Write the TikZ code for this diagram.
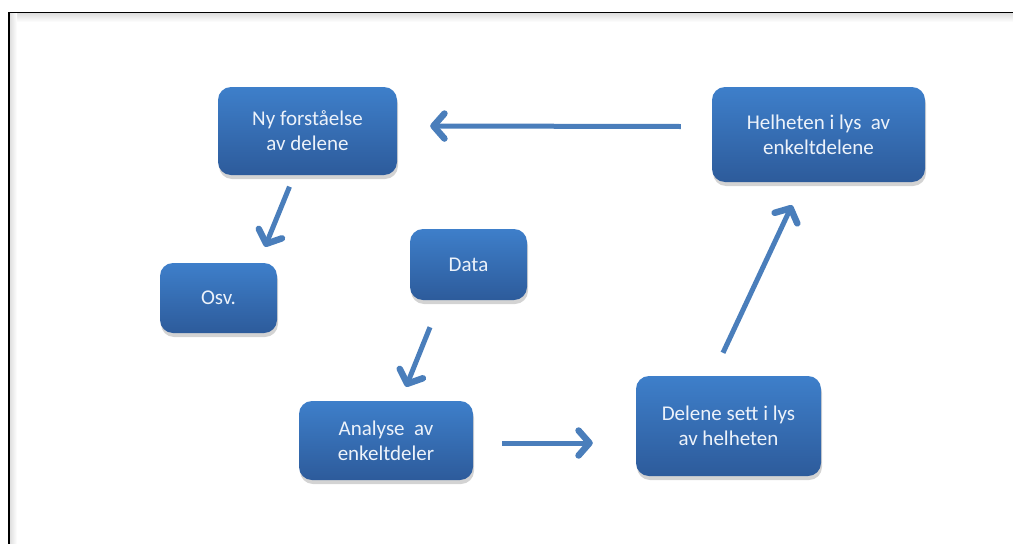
\documentclass[tikz,border=0pt]{standalone}
\usepackage{fontspec}
\setmainfont{Carlito}
\usetikzlibrary{arrows.meta,shadows}

\definecolor{boxtop}{RGB}{62,127,202}
\definecolor{boxbot}{RGB}{45,91,155}
\definecolor{arrowblue}{RGB}{74,126,187}
\definecolor{boxtext}{RGB}{236,242,250}

\tikzset{
    stagebox/.style={rectangle, rounded corners=13pt, draw=none,
        top color=boxtop, bottom color=boxbot, text=boxtext,
        align=center, inner sep=2pt,
        font=\fontsize{21}{25}\selectfont,
        drop shadow={shadow xshift=1pt,shadow yshift=-4pt,opacity=0.35}},
    flow/.style={draw=arrowblue, line width=5pt,
        -{Straight Barb[length=11pt,width=25pt,line width=6.5pt,round]}}
}

\begin{document}
\begin{tikzpicture}[x=1pt,y=-1pt]
        \useasboundingbox (0,0) rectangle (1013,544);
        % frame
        \shade[top color=black!13, bottom color=white] (9.5,13.3) rectangle (1013,22);
        \shade[left color=black!13, right color=white] (9.5,13.3) rectangle (17,544);
        \draw[line width=1.5pt] (9,544) -- (9,12.5) -- (1013,12.5);

        % boxes
        \node[stagebox, minimum width=179pt, minimum height=88pt] (ny) at (307.5,131) {Ny forståelse\\av delene};
        \node[stagebox, minimum width=213pt, minimum height=95pt] (helheten) at (818.5,134.5) {Helheten i lys\ \ av\\enkeltdelene};
        \node[stagebox, minimum width=117pt, minimum height=70pt] (osv) at (218.5,298) {Osv.};
        \node[stagebox, minimum width=117pt, minimum height=71pt] (data) at (468.5,264.5) {Data};
        \node[stagebox, minimum width=174pt, minimum height=79pt] (analyse) at (386,440.5) {Analyse\ \ av\\enkeltdeler};
        \node[stagebox, minimum width=185pt, minimum height=100pt] (delene) at (728.5,426) {Delene sett i lys\\av helheten};

        % arrows
        \draw[flow] ([xshift=-38.5pt,yshift=-27pt]data.south) -- ([xshift=20pt,yshift=14pt]analyse.north);
        \draw[flow] ([xshift=29pt,yshift=-2.5pt]analyse.east) -- ([xshift=-43pt,yshift=-17pt]delene.west);
        \draw[flow] ([xshift=-5.5pt,yshift=23pt]delene.north) -- ([xshift=-26.5pt,yshift=-23pt]helheten.south);
        \draw[flow] ([xshift=-31pt,yshift=8pt]helheten.west) -- ([xshift=33pt,yshift=5pt]ny.east);
        \draw[flow] ([xshift=-18pt,yshift=-11.5pt]ny.south) -- ([xshift=46.5pt,yshift=16pt]osv.north);
\end{tikzpicture}
\end{document}
